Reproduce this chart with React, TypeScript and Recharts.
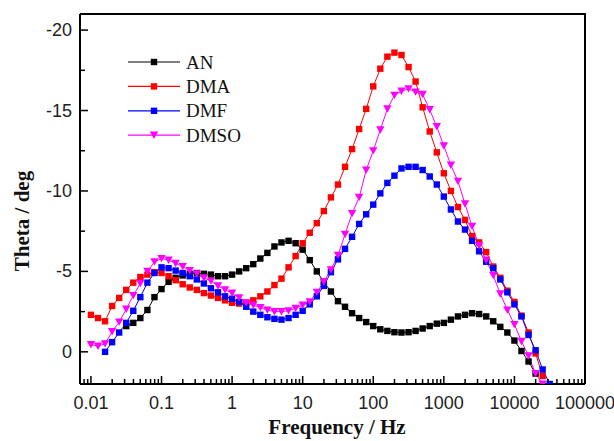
import { LineChart, Line, XAxis, YAxis, Legend } from "recharts"

// measurement frequencies, 10 points per decade
const freqHz = [
  0.01, 0.01259, 0.01585, 0.01995, 0.02512, 0.03162, 0.03981, 0.05012, 0.0631, 0.07943,
  0.1, 0.1259, 0.1585, 0.1995, 0.2512, 0.3162, 0.3981, 0.5012, 0.631, 0.7943,
  1, 1.259, 1.585, 1.995, 2.512, 3.162, 3.981, 5.012, 6.31, 7.943,
  10, 12.59, 15.85, 19.95, 25.12, 31.62, 39.81, 50.12, 63.1, 79.43,
  100, 125.9, 158.5, 199.5, 251.2, 316.2, 398.1, 501.2, 631, 794.3,
  1000, 1259, 1585, 1995, 2512, 3162, 3981, 5012, 6310, 7943,
  10000, 12590, 15850, 19950, 25120, 31620,
]

const thetaAN = [
  null, null, null, null, null, -1.6, -1.8, -2.1, -2.6, -3.4,
  -3.9, -4.35, -4.6, -4.75, -4.85, -4.9, -4.85, -4.8, -4.7, -4.7,
  -4.8, -5.0, -5.2, -5.45, -5.8, -6.15, -6.55, -6.8, -6.9, -6.75,
  -6.35, -5.7, -5.0, -4.35, -3.75, -3.15, -2.8, -2.4, -2.1, -1.85,
  -1.6, -1.4, -1.3, -1.22, -1.2, -1.22, -1.3, -1.45, -1.6, -1.75,
  -1.8, -2.0, -2.2, -2.3, -2.4, -2.35, -2.2, -1.9, -1.55, -1.2,
  -0.7, -0.05, 0.6, 1.35, null, null,
]

const thetaDMA = [
  -2.3, -2.1, -1.9, -2.85, -3.35, -3.85, -4.3, -4.65, -4.8, -4.95,
  -4.9, -4.7, -4.45, -4.2, -4.0, -3.85, -3.65, -3.5, -3.35, -3.2,
  -3.05, -3.0, -3.05, -3.2, -3.45, -3.75, -4.15, -4.55, -5.25, -5.95,
  -6.75, -7.4, -8.0, -8.75, -9.6, -10.4, -11.5, -12.6, -13.85, -15.1,
  -16.5, -17.6, -18.35, -18.6, -18.45, -17.7, -16.8, -15.2, -13.7, -12.4,
  -11.1, -10.0, -9.0, -8.2, -7.2, -6.8, -6.2, -5.3, -4.6, -3.8,
  -3.1, -2.25, -1.2, 0.1, 1.5, null,
]

const thetaDMF = [
  null, null, 0.0, -0.6, -1.2, -1.8, -2.55, -3.4, -4.3, -4.9,
  -5.25, -5.2, -5.05, -4.9, -4.7, -4.5, -4.25, -3.95, -3.7, -3.45,
  -3.3, -3.1, -2.8, -2.5, -2.3, -2.15, -2.05, -2.0, -2.1, -2.3,
  -2.55, -2.95, -3.45, -4.1, -4.95, -5.75, -6.4, -7.15, -7.95, -8.55,
  -9.15, -9.85, -10.5, -10.95, -11.4, -11.5, -11.5, -11.3, -10.9, -10.4,
  -9.65, -8.85, -8.1, -7.6, -6.9, -6.25, -5.6, -5.2, -4.5, -3.7,
  -2.95, -2.2, -1.05, -0.1, 1.1, 2.0,
]

const thetaDMSO = [
  -0.45, -0.35, -0.5, -1.25, -1.85, -2.65, -3.5, -4.25, -5.0, -5.6,
  -5.8, -5.7, -5.5, -5.3, -5.05, -4.85, -4.6, -4.4, -4.1, -3.85,
  -3.65, -3.35, -3.05, -2.9, -2.75, -2.6, -2.5, -2.5, -2.55, -2.7,
  -2.9, -3.1, -3.7, -4.35, -5.1, -6.0, -7.3, -8.6, -9.6, -11.3,
  -12.5, -13.8, -15.1, -15.95, -16.2, -16.35, -16.15, -16.0, -15.05, -14.0,
  -12.8, -11.6, -10.6, -9.2, -7.8, -6.6, -5.7, -4.75, -3.6, -2.6,
  -1.7, -0.65, 0.25, 1.35, 2.0, null,
]

const xDomain = [0.007, 100000]
const yDomain = [-21, 2]
const xMajorTicks = [0.01, 0.1, 1, 10, 100, 1000, 10000, 100000]
const xTickLabels = ["0.01", "0.1", "1", "10", "100", "1000", "10000", "100000"]
const xMinorTicks = [-3, -2, -1, 0, 1, 2, 3, 4]
  .flatMap((d) => [2, 3, 4, 5, 6, 7, 8, 9].map((m) => m * Math.pow(10, d)))
  .filter((v) => v >= xDomain[0] && v <= xDomain[1])
const yMajorTicks = [-20, -15, -10, -5, 0]
const yMinorTicks = [-17.5, -12.5, -7.5, -2.5]

const series = [
  { key: "AN", color: "#000000", shape: "square", values: thetaAN },
  { key: "DMA", color: "#ff0000", shape: "square", values: thetaDMA },
  { key: "DMF", color: "#0000ff", shape: "square", values: thetaDMF },
  { key: "DMSO", color: "#ff00ff", shape: "triangle", values: thetaDMSO },
]

const chartData = freqHz.map((f, i) => {
  const row: Record<string, number | null> = { f }
  series.forEach((s) => {
    row[s.key] = s.values[i]
  })
  return row
})

// plot box, set by the chart margins below
const W = 614
const H = 441
const M = { top: 14, right: 29, bottom: 57, left: 80 }

const SANS = "'Liberation Sans', Arial, sans-serif"
const SERIF = "'Liberation Serif', 'Times New Roman', serif"

function Marker({ cx, cy, color, shape }: { cx: number; cy: number; color: string; shape: string }) {
  if (shape === "triangle") {
    return <path d={`M${cx - 4.2},${cy - 3.6}L${cx + 4.2},${cy - 3.6}L${cx},${cy + 3.8}Z`} fill={color} />
  }
  return <rect x={cx - 3.2} y={cy - 3.2} width={6.4} height={6.4} fill={color} />
}

function makeDot(color: string, shape: string) {
  return (props: any) => {
    const { cx, cy, key, value } = props
    if (cx == null || cy == null || value == null) return <g key={key} />
    return <Marker key={key} cx={cx} cy={cy} color={color} shape={shape} />
  }
}

// bottom axis area is 1px tall, so the tick anchor sits 1px below the axis line
function FreqTick(props: any) {
  const { x, payload } = props
  const y = props.y - 1
  const i = xMajorTicks.indexOf(payload.value)
  const major = i >= 0
  return (
    <g>
      <line x1={x} x2={x} y1={y} y2={y - (major ? 7 : 4)} stroke="#000" strokeWidth={1.5} />
      {major && (
        <text x={x} y={y + 20} textAnchor="middle" dominantBaseline="central" fontFamily={SANS} fontSize={18} fill="#222">
          {xTickLabels[i]}
        </text>
      )}
    </g>
  )
}

function ThetaTick(props: any) {
  const { x, y, payload } = props
  const major = yMajorTicks.includes(payload.value)
  return (
    <g>
      <line x1={x} x2={x + (major ? 8 : 5)} y1={y} y2={y} stroke="#000" strokeWidth={1.5} />
      {major && (
        <text x={x - 8} y={y} textAnchor="end" dominantBaseline="central" fontFamily={SANS} fontSize={18} fill="#222">
          {payload.value}
        </text>
      )}
    </g>
  )
}

function LegendBox(props: any) {
  const payload = props.payload || []
  return (
    <svg width={140} height={110}>
      {series.map((s, i) => {
        const cy = 14 + i * 24.4
        const entry = payload.find((p: any) => p.dataKey === s.key)
        return (
          <g key={s.key}>
            <line x1={8} x2={60} y1={cy} y2={cy} stroke={s.color} strokeWidth={1.2} />
            <Marker cx={34} cy={cy} color={s.color} shape={s.shape} />
            <text x={66} y={cy} dominantBaseline="central" fontFamily={SERIF} fontSize={19} fill="#111">
              {entry ? entry.value : s.key}
            </text>
          </g>
        )
      })}
    </svg>
  )
}

const frameLine = { stroke: "#000", strokeWidth: 2 }

export default function App() {
  return (
    <div style={{ position: "fixed", left: 0, top: 0, width: W, height: H, background: "#fff" }}>
      <LineChart
        width={W}
        height={H}
        data={chartData}
        margin={{ top: M.top, right: M.right, bottom: M.bottom - 1, left: M.left - 1 }}
      >
        <XAxis
          dataKey="f"
          type="number"
          scale="log"
          domain={xDomain}
          allowDataOverflow
          ticks={[...xMajorTicks, ...xMinorTicks]}
          interval={0}
          height={1}
          tickSize={0}
          tickMargin={0}
          tickLine={false}
          tick={<FreqTick />}
          axisLine={frameLine}
        />
        <YAxis
          type="number"
          domain={yDomain}
          reversed
          allowDataOverflow
          ticks={[...yMajorTicks, ...yMinorTicks]}
          interval={0}
          width={1}
          tickSize={0}
          tickMargin={0}
          tickLine={false}
          tick={<ThetaTick />}
          axisLine={frameLine}
        />
        <Legend
          layout="vertical"
          align="center"
          verticalAlign="middle"
          wrapperStyle={{ left: 120, top: 48, width: 140, height: 110 }}
          content={<LegendBox />}
        />
        {series.map((s) => (
          <Line
            key={s.key}
            dataKey={s.key}
            name={s.key}
            stroke={s.color}
            strokeWidth={1}
            dot={makeDot(s.color, s.shape)}
            activeDot={false}
            isAnimationActive={false}
          />
        ))}
      </LineChart>
      {/* top and right edges of the plot frame */}
      <svg width={W} height={H} style={{ position: "absolute", left: 0, top: 0, pointerEvents: "none" }}>
        <path
          d={`M${M.left},${M.top}H${W - M.right}V${H - M.bottom}`}
          fill="none"
          stroke="#000"
          strokeWidth={2}
        />
      </svg>
      <div
        style={{
          position: "absolute",
          left: 237,
          top: 416,
          width: 200,
          lineHeight: "22px",
          textAlign: "center",
          fontFamily: SERIF,
          fontWeight: "bold",
          fontSize: 21,
          color: "#111",
        }}
      >
        Frequency / Hz
      </div>
      <div
        style={{
          position: "absolute",
          left: -78,
          top: 209,
          width: 200,
          height: 24,
          lineHeight: "24px",
          textAlign: "center",
          transform: "rotate(-90deg)",
          fontFamily: SERIF,
          fontWeight: "bold",
          fontSize: 21,
          color: "#111",
        }}
      >
        Theta / deg
      </div>
    </div>
  )
}
